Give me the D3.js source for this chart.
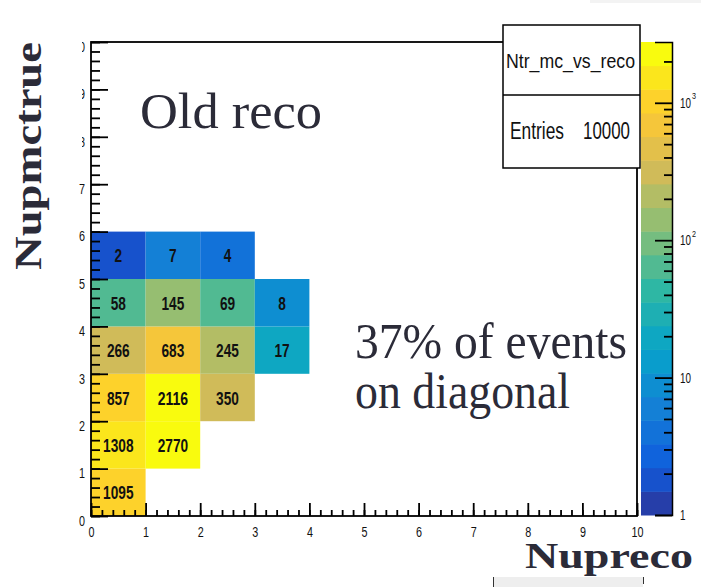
<!DOCTYPE html>
<html lang="en">
<head>
    <meta charset="UTF-8">
    <title>Ntr_mc_vs_reco</title>
    <script src="https://d3js.org/d3.v7.min.js"></script>
    <style>
        body { margin: 0; background: #fff; }
        svg { display: block; }
    </style>
</head>
<body>
    <div id="chart"></div>
    <script>
        const width = 701;
        const height = 587;
        const SANS = 'Liberation Sans, Arial, Helvetica, sans-serif';
        const SERIF = '"Liberation Serif", "Times New Roman", Times, serif';

        // counts per Nupmctrue bin (row), listed by Nupreco bin 0,1,2,...
        const truthBins = [0, 1, 2, 3, 4, 5];
        const rowCounts = [
            [1095],
            [1308, 2770],
            [857, 2116, 350],
            [266, 683, 245, 17],
            [58, 145, 69, 8],
            [2, 7, 4]
        ];
        const axisTicks = [0, 1, 2, 3, 4, 5, 6, 7, 8, 9, 10];
        const zMin = 1;
        const zMax = 2770;
        const zMajor = [1, 10, 100, 1000];
        const nContours = 20;
        const entries = 10000;

        // ROOT kBird palette stops
        const birdR = [0.2082, 0.0592, 0.0780, 0.0232, 0.1802, 0.5301, 0.8186, 0.9956, 0.9764];
        const birdG = [0.1664, 0.3599, 0.5041, 0.6419, 0.7178, 0.7492, 0.7328, 0.7862, 0.9832];
        const birdB = [0.5293, 0.8684, 0.8385, 0.7914, 0.6425, 0.4662, 0.3499, 0.1968, 0.0539];
        const stops = birdR.map((d, i) => i / (birdR.length - 1));
        const bird = d3.scaleLinear().domain(stops)
            .range(birdR.map((r, i) => d3.rgb(r * 255, birdG[i] * 255, birdB[i] * 255)))
            .clamp(true);

        const x = d3.scaleLinear().domain([0, 10]).range([91, 637]);
        const y = d3.scaleLinear().domain([0, 10]).range([516, 42]);
        const z = d3.scaleLog().domain([zMin, zMax]).range([515, 42]);

        function band(v) {
            const f = Math.log(v / zMin) / Math.log(zMax / zMin);
            return Math.min(nContours - 1, Math.floor(f * nContours));
        }
        function bandColor(k) {
            return bird((k + 0.99) / nContours);
        }
        // squeeze text to look like the condensed ROOT font
        function squeeze(sel, perChar) {
            sel.attr('textLength', function () { return this.textContent.length * perChar; })
                .attr('lengthAdjust', 'spacingAndGlyphs');
        }

        const svg = d3.select('#chart').append('svg')
            .attr('width', width)
            .attr('height', height);

        // cells
        const cells = [];
        rowCounts.forEach((row, j) => {
            row.forEach((v, i) => cells.push({ rx: i, ty: truthBins[j], v: v }));
        });

        svg.append('g').selectAll('rect')
            .data(cells)
            .enter().append('rect')
            .attr('x', d => x(d.rx))
            .attr('y', d => y(d.ty + 1))
            .attr('width', d => x(d.rx + 1) - x(d.rx))
            .attr('height', d => y(d.ty) - y(d.ty + 1))
            .attr('fill', d => bandColor(band(d.v)));

        svg.append('g').selectAll('text')
            .data(cells)
            .enter().append('text')
            .attr('font-family', SANS)
            .attr('x', d => x(d.rx + 0.5))
            .attr('y', d => y(d.ty + 0.5))
            .attr('dy', '0.37em')
            .attr('text-anchor', 'middle')
            .attr('font-size', 19)
            .attr('font-weight', 'bold')
            .attr('fill', '#111')
            .text(d => d.v)
            .call(squeeze, 7.6);

        // axes
        const minor = d3.range(0, 10.001, 0.2);

        const xMinor = svg.append('g').attr('transform', `translate(0,${y(0)})`)
            .call(d3.axisBottom(x).tickValues(minor).tickSize(-6).tickFormat(''));
        const xMajor = svg.append('g').attr('transform', `translate(0,${y(0)})`)
            .call(d3.axisBottom(x).tickValues(axisTicks).tickSize(-13).tickPadding(10).tickFormat(d3.format('d')));
        const yMinor = svg.append('g').attr('transform', `translate(${x(0)},0)`)
            .call(d3.axisLeft(y).tickValues(minor).tickSize(-9).tickFormat(''));
        const yMajor = svg.append('g').attr('transform', `translate(${x(0)},0)`)
            .call(d3.axisLeft(y).tickValues(axisTicks).tickSize(-17).tickPadding(6).tickFormat(d3.format('d')));

        [xMinor, xMajor, yMinor, yMajor].forEach(g => {
            g.select('.domain').remove();
            g.selectAll('line').attr('stroke', '#000').attr('stroke-width', 1.8);
            g.selectAll('text').attr('font-size', 15).attr('font-family', SANS).attr('fill', '#111')
                .call(squeeze, 6);
        });
        yMajor.selectAll('text').attr('dy', '0.62em');

        // frame
        svg.append('rect')
            .attr('x', x(0)).attr('y', y(10))
            .attr('width', x(10) - x(0)).attr('height', y(0) - y(10))
            .attr('fill', 'none').attr('stroke', '#000').attr('stroke-width', 1.8);

        // white cover over top of y labels (slide overlay)
        svg.append('rect')
            .attr('x', 0).attr('y', 0).attr('width', 82).attr('height', 165)
            .attr('fill', '#fff');

        // palette
        const bands = d3.range(nContours);
        const lz0 = Math.log10(zMin), lz1 = Math.log10(zMax);
        const bandEdge = k => z(Math.pow(10, lz0 + k * (lz1 - lz0) / nContours));
        svg.append('g').selectAll('rect')
            .data(bands)
            .enter().append('rect')
            .attr('x', 641)
            .attr('y', k => bandEdge(k + 1))
            .attr('width', 31)
            .attr('height', k => bandEdge(k) - bandEdge(k + 1) + 0.5)
            .attr('fill', k => bandColor(k));

        const zMinor = [];
        zMajor.forEach(dec => {
            for (let m = 2; m <= 9; m++) if (dec * m <= zMax) zMinor.push(dec * m);
        });
        const zMinG = svg.append('g').attr('transform', 'translate(672,0)')
            .call(d3.axisRight(z).tickValues(zMinor).tickSize(-8).tickFormat(''));
        const zMajG = svg.append('g').attr('transform', 'translate(672,0)')
            .call(d3.axisRight(z).tickValues(zMajor).tickSize(-17).tickPadding(8).tickFormat(''));
        [zMinG, zMajG].forEach(g => {
            g.selectAll('line').attr('stroke', '#000').attr('stroke-width', 1.8);
        });
        zMinG.select('.domain').remove();
        zMajG.select('.domain').attr('stroke', '#000').attr('stroke-width', 1.5);

        zMajG.selectAll('.tick').each(function (d) {
            const tick = d3.select(this);
            const t = tick.select('text').attr('font-size', 14).attr('font-family', SANS)
                .attr('fill', '#111').attr('dy', '0.32em');
            const p = Math.round(Math.log10(d));
            if (p === 0) t.text('1').call(squeeze, 5.5);
            else {
                t.text('10').call(squeeze, 5.5);
                if (p > 1) {
                    tick.append('text').attr('x', 20).attr('y', -4)
                        .attr('font-size', 9).attr('font-family', SANS).attr('fill', '#111')
                        .attr('textLength', 4).attr('lengthAdjust', 'spacingAndGlyphs')
                        .text(p);
                }
            }
        });

        // stats box
        const stats = svg.append('g').attr('font-family', SANS).attr('fill', '#111');
        stats.append('rect').attr('x', 503).attr('y', 25).attr('width', 137).attr('height', 143)
            .attr('fill', '#fff').attr('stroke', '#000').attr('stroke-width', 1.5);
        stats.append('line').attr('x1', 503).attr('x2', 640).attr('y1', 95).attr('y2', 95)
            .attr('stroke', '#000').attr('stroke-width', 1.5);
        stats.append('text')
            .attr('x', 506).attr('y', 68).attr('font-size', 20)
            .attr('textLength', 129).attr('lengthAdjust', 'spacingAndGlyphs')
            .text('Ntr_mc_vs_reco');
        stats.append('text')
            .attr('x', 510).attr('y', 139).attr('font-size', 23)
            .attr('textLength', 54).attr('lengthAdjust', 'spacingAndGlyphs')
            .text('Entries');
        stats.append('text')
            .attr('x', 583).attr('y', 139).attr('font-size', 23)
            .attr('textLength', 47).attr('lengthAdjust', 'spacingAndGlyphs')
            .text(entries);

        // axis titles and annotations
        const notes = svg.append('g').style('font-family', SERIF).attr('fill', '#2b2b38');
        notes.append('text')
            .attr('transform', 'translate(41,270) rotate(-90)')
            .attr('font-size', 38).attr('font-weight', 'bold')
            .attr('textLength', 228).attr('lengthAdjust', 'spacingAndGlyphs')
            .text('Nupmctrue');
        notes.append('text')
            .attr('x', 525).attr('y', 568)
            .attr('font-size', 35).attr('font-weight', 'bold')
            .attr('textLength', 168).attr('lengthAdjust', 'spacingAndGlyphs')
            .text('Nupreco');
        notes.append('text')
            .attr('x', 140).attr('y', 128).attr('font-size', 51)
            .attr('textLength', 182).attr('lengthAdjust', 'spacingAndGlyphs')
            .text('Old reco');
        notes.append('text')
            .attr('x', 355).attr('y', 358).attr('font-size', 50)
            .attr('textLength', 272).attr('lengthAdjust', 'spacingAndGlyphs')
            .text('37% of events');
        notes.append('text')
            .attr('x', 355).attr('y', 408).attr('font-size', 50)
            .attr('textLength', 215).attr('lengthAdjust', 'spacingAndGlyphs')
            .text('on diagonal');

        // slide remnants
        svg.append('rect').attr('x', 493).attr('y', 577).attr('width', 150).attr('height', 10)
            .attr('fill', '#eeeeee');
        svg.append('line').attr('x1', 493.5).attr('x2', 493.5).attr('y1', 577).attr('y2', 587)
            .attr('stroke', '#333').attr('stroke-width', 1);
        svg.append('line').attr('x1', 643.5).attr('x2', 643.5).attr('y1', 577).attr('y2', 584)
            .attr('stroke', '#333').attr('stroke-width', 1);
        svg.append('rect').attr('x', 590).attr('y', 0).attr('width', 111).attr('height', 3)
            .attr('fill', '#f3f3f3');
    </script>
</body>
</html>
